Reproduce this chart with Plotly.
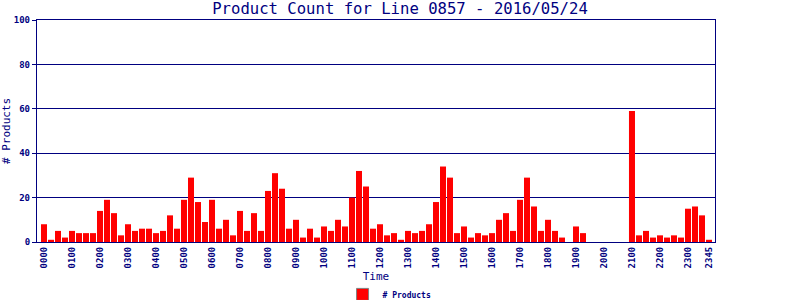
import plotly.graph_objects as go

hours = ["0000","0100","0200","0300","0400","0500","0600","0700","0800","0900","1000","1100",
         "1200","1300","1400","1500","1600","1700","1800","1900","2000","2100","2200","2300"]
quarters = ["00","15","30","45"]
times = [h[:2] + q for h in hours for q in quarters]

counts = [8,1,5,2, 5,4,4,4, 14,19,13,3, 8,5,6,6, 4,5,12,6, 19,29,18,9,
          19,6,10,3, 14,5,13,5, 23,31,24,6, 10,2,6,2, 7,5,10,7, 20,32,25,6,
          8,3,4,1, 5,4,5,8, 18,34,29,4, 7,2,4,3, 4,10,13,5, 19,29,16,5,
          10,5,2,0, 7,4,0,0, 0,0,0,0, 59,3,5,2, 3,2,3,2, 15,16,12,1]

tick_labels = hours + ["2345"]

NAVY = "#000080"
MONO = "DejaVu Sans Mono"

fig = go.Figure()
fig.add_trace(go.Bar(x=times, y=counts, marker=dict(color="#ff0000", line=dict(width=0)),
                     showlegend=False, name="# Products"))
fig.add_trace(go.Bar(x=[None], y=[None], name="# Products",
                     marker=dict(color="#ff0000", line=dict(color="#808080", width=1))))

fig.update_layout(
    width=800, height=300,
    margin=dict(l=37, r=85, t=20, b=58, autoexpand=False),
    paper_bgcolor="white", plot_bgcolor="white",
    barmode="overlay", bargap=0.14,
    title=dict(text="Product Count for Line 0857 - 2016/05/24", x=0.5, xref="container",
               y=0.97, yref="container", yanchor="middle", xanchor="center",
               font=dict(family=MONO, size=15.6, color=NAVY)),
    legend=dict(orientation="h", x=0.52, xanchor="center", y=-0.236, yanchor="middle",
                font=dict(family=MONO, size=8, color=NAVY, weight="bold"),
                itemwidth=30),
    xaxis=dict(type="category", range=[-1, 95.86], automargin=False,
               tickvals=[t for t in tick_labels], ticktext=tick_labels,
               tickangle=-90, tickfont=dict(family=MONO, size=9, color=NAVY, weight="bold"),
               showline=True, mirror=True, linecolor=NAVY, linewidth=1.3,
               showgrid=False, ticks="",
               title=dict(text="Time", font=dict(family=MONO, size=11, color=NAVY), standoff=4)),
    yaxis=dict(range=[0, 100], tickvals=[0,20,40,60,80,100], automargin=False,
               tickfont=dict(family=MONO, size=9, color=NAVY, weight="bold"),
               showline=True, mirror=True, linecolor=NAVY, linewidth=1.3,
               showgrid=True, gridcolor=NAVY, gridwidth=1.3,
               ticks="outside", ticklen=4, tickcolor=NAVY,
               zeroline=False,
               title=dict(text="# Products", font=dict(family=MONO, size=11, color=NAVY), standoff=1)),
)

fig.write_html("out.html", config={"displayModeBar": False})

# remove the browser's default page margin so the figure sits at the top-left corner
with open("out.html", "r", encoding="utf-8") as f:
    html = f.read()
html = html.replace("<head>", "<head><style>html,body{margin:0;padding:0;}</style>", 1)
with open("out.html", "w", encoding="utf-8") as f:
    f.write(html)
